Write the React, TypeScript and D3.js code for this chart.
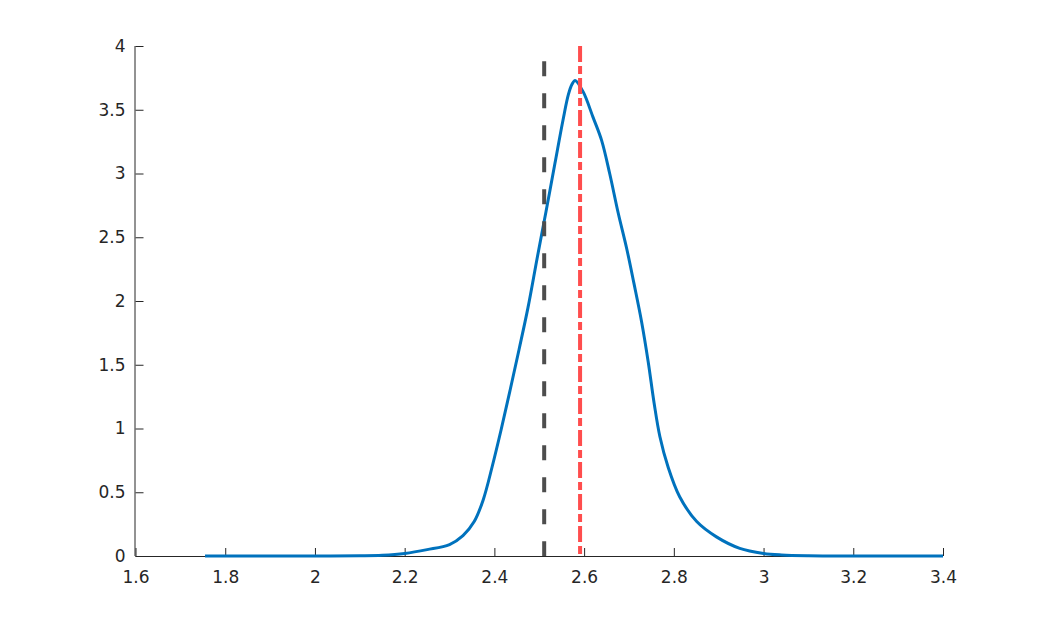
import React, { useEffect, useRef } from "react";
import * as d3 from "d3";

// density estimate
const densityX = [
  1.755, 1.9, 2.0, 2.1, 2.15, 2.2, 2.25, 2.3, 2.33, 2.355, 2.375, 2.395, 2.415,
  2.435, 2.455, 2.475, 2.495, 2.515, 2.535, 2.553, 2.565, 2.573, 2.58, 2.598,
  2.62, 2.639, 2.657, 2.676, 2.695, 2.711, 2.728, 2.743, 2.756, 2.769, 2.787,
  2.813, 2.851, 2.895, 2.947, 3.0, 3.04, 3.1, 3.2, 3.3, 3.4,
];
const densityY = [
  0, 0, 0, 0.002, 0.006, 0.02, 0.05, 0.09, 0.16, 0.27, 0.44, 0.7, 0.99, 1.3,
  1.62, 1.95, 2.33, 2.7, 3.08, 3.42, 3.62, 3.7, 3.73, 3.64, 3.44, 3.26, 3.0,
  2.69, 2.41, 2.14, 1.84, 1.52, 1.2, 0.935, 0.7, 0.465, 0.27, 0.15, 0.06, 0.02,
  0.008, 0.002, 0, 0, 0,
];

// vertical reference lines
const dashedLineX = 2.511;
const dashedLineTop = 3.88;
const dashDotLineX = 2.591;
const dashDotLineTop = 4.0;

const xTicks = [1.6, 1.8, 2, 2.2, 2.4, 2.6, 2.8, 3, 3.2, 3.4];
const yTicks = [0, 0.5, 1, 1.5, 2, 2.5, 3, 3.5, 4];

const App = () => {
  const chartRef = useRef(null);

  useEffect(() => {
    const W = 1042;
    const H = 625;
    const margin = { top: 46, right: 99, bottom: 69, left: 135.5 };
    const width = W - margin.left - margin.right;
    const height = H - margin.top - margin.bottom;
    const axisColor = "#262626";
    const font = "'DejaVu Sans', Helvetica, Arial, sans-serif";

    d3.select(chartRef.current).selectAll("*").remove();

    const svg = d3
      .select(chartRef.current)
      .attr("width", W)
      .attr("height", H)
      .append("g")
      .attr("transform", `translate(${margin.left},${margin.top})`);

    const x = d3.scaleLinear().domain([1.6, 3.4]).range([0, width]);
    const y = d3.scaleLinear().domain([0, 4]).range([height, 0]);

    // axes (MATLAB style: ticks inside, no box)
    const xAxis = svg
      .append("g")
      .attr("transform", `translate(0,${height})`)
      .call(
        d3
          .axisBottom(x)
          .tickValues(xTicks)
          .tickSize(-8)
          .tickPadding(15)
          .tickFormat((d) => d3.format("")(d))
      );
    const yAxis = svg.append("g").call(
      d3
        .axisLeft(y)
        .tickValues(yTicks)
        .tickSize(-8)
        .tickPadding(10)
        .tickFormat((d) => d3.format("")(d))
    );

    [xAxis, yAxis].forEach((ax) => {
      ax.attr("font-size", 17).attr("font-family", font);
      ax.select(".domain").attr("stroke", axisColor).attr("stroke-width", 1);
      ax.selectAll(".tick line").attr("stroke", axisColor);
      ax.selectAll(".tick text").attr("fill", axisColor);
    });
    // plain axis lines, no end caps
    xAxis.select(".domain").attr("d", `M0,0.5H${width}`);
    yAxis.select(".domain").attr("d", `M-0.5,0V${height}`);

    const points = densityX.map((v, i) => [v, densityY[i]]);

    const line = d3
      .line()
      .x((d) => x(d[0]))
      .y((d) => y(d[1]))
      .curve(d3.curveCatmullRom.alpha(0.5));

    svg
      .append("path")
      .datum(points)
      .attr("d", line)
      .style("fill", "none")
      .style("stroke", "#0072BD")
      .style("stroke-width", 3)
      .style("stroke-linejoin", "round");

    svg
      .append("line")
      .attr("x1", x(dashedLineX))
      .attr("x2", x(dashedLineX))
      .attr("y1", y(dashedLineTop))
      .attr("y2", y(0))
      .style("stroke", "#4d4d4d")
      .style("stroke-width", 4)
      .style("stroke-dasharray", "15,17");

    svg
      .append("line")
      .attr("x1", x(dashDotLineX))
      .attr("x2", x(dashDotLineX))
      .attr("y1", y(dashDotLineTop))
      .attr("y2", y(0))
      .style("stroke", "#ff4d4d")
      .style("stroke-width", 4)
      .style("stroke-dasharray", "16,4,8,4");

    return () => {
      d3.select(chartRef.current).selectAll("*").remove();
    };
  }, []);

  return (
    <svg
      ref={chartRef}
      style={{ position: "absolute", left: 0, top: 0, background: "white" }}
    />
  );
};

export default App;
